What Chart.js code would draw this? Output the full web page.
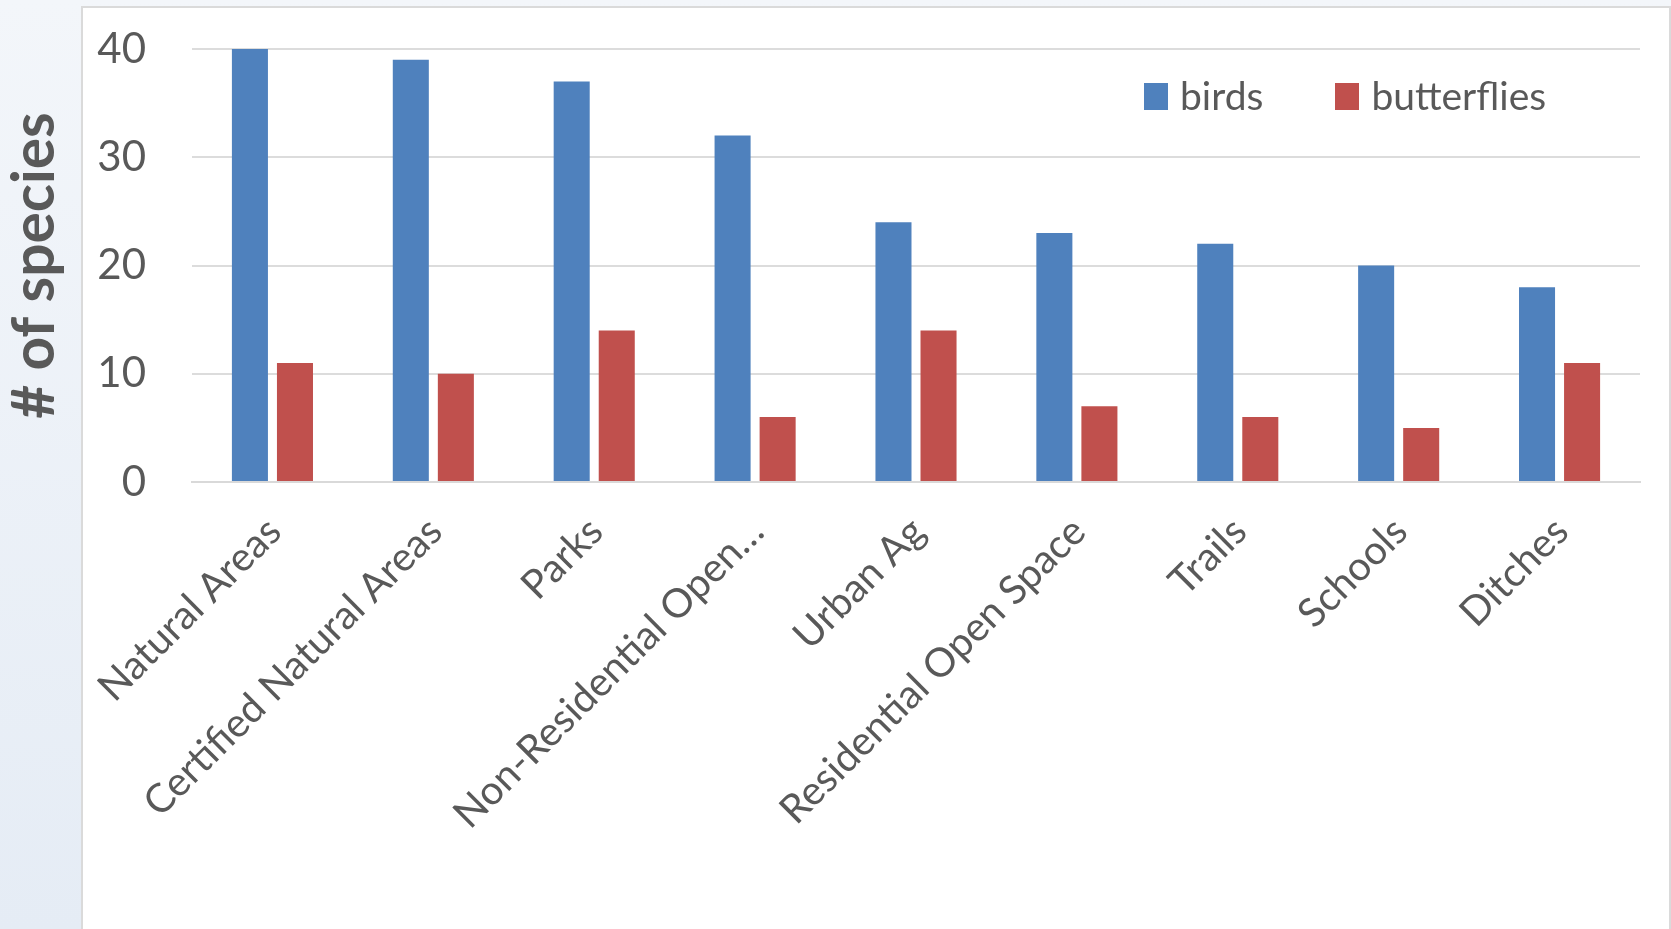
<!DOCTYPE html>
<html>
<head>
<meta charset="utf-8">
<script src="https://cdn.jsdelivr.net/npm/chart.js@4.4.0/dist/chart.umd.min.js"></script>
<style>
  html, body { margin: 0; padding: 0; width: 1671px; height: 929px; overflow: hidden; }
  body { position: relative; background: linear-gradient(to bottom, #f3f6fa 0%, #e5ecf5 100%); font-family: Lato, "Open Sans", sans-serif; }
  #panel { position: absolute; left: 81px; top: 6px; width: 1586px; height: 960px; background: #ffffff; border: 2px solid #dadada; }
  #wrap { position: absolute; left: 0; top: 0; width: 1671px; height: 929px; }
  #legend { position: absolute; left: 1144px; top: 72px; font-size: 39px; line-height: 1.2; color: #595959; white-space: nowrap; font-family: Lato, sans-serif; }
  #legend .item { display: inline; margin-right: 72px; }
  #legend .box { display: inline-block; width: 24px; height: 27px; vertical-align: baseline; margin-right: 12px; }
</style>
</head>
<body>
<div id="panel"></div>
<div id="wrap"><canvas id="c"></canvas></div>
<div id="legend"></div>
<script>
const categories = ["Natural Areas", "Certified Natural Areas", "Parks", "Non-Residential Open\u2026", "Urban Ag", "Residential Open Space", "Trails", "Schools", "Ditches"];
const birds = [40, 39, 37, 32, 24, 23, 22, 20, 18];
const butterflies = [11, 10, 14, 6, 14, 7, 6, 5, 11];
const yTicks = [0, 10, 20, 30, 40];
const seriesNames = ["birds", "butterflies"];
const axisTitle = "# of species";

const TEXT = "#595959";

const htmlLegend = {
  id: "htmlLegend",
  afterUpdate(chart) {
    const el = document.getElementById("legend");
    el.innerHTML = "";
    const items = chart.options.plugins.legend.labels.generateLabels(chart);
    items.forEach(it => {
      const item = document.createElement("span");
      item.className = "item";
      const box = document.createElement("span");
      box.className = "box";
      box.style.background = it.fillStyle;
      const txt = document.createElement("span");
      txt.textContent = it.text;
      item.appendChild(box);
      item.appendChild(txt);
      el.appendChild(item);
    });
  }
};

new Chart(document.getElementById("c"), {
  type: "bar",
  data: {
    labels: categories,
    datasets: [
      { label: seriesNames[0], data: birds, backgroundColor: "#4f81bd" },
      { label: seriesNames[1], data: butterflies, backgroundColor: "#c0504d" }
    ]
  },
  options: {
    responsive: true,
    maintainAspectRatio: false,
    animation: false,
    categoryPercentage: 0.56,
    barPercentage: 0.8,
    layout: { padding: { top: 49, right: 31, bottom: 0, left: 0 } },
    plugins: {
      legend: { display: false },
      tooltip: { enabled: false }
    },
    scales: {
      x: {
        grid: { display: false, drawTicks: false },
        border: { display: true, color: "#d9d9d9", width: 2 },
        ticks: {
          color: TEXT,
          font: { family: "Lato", size: 40 },
          minRotation: 45,
          maxRotation: 45,
          autoSkip: false,
          padding: 26,
          labelOffset: 2
        },
        afterFit(s) { s.height = 447; }
      },
      y: {
        min: 0,
        max: 40,
        afterBuildTicks(s) { s.ticks = yTicks.map(v => ({ value: v })); },
        grid: { color: "#dcdcdc", lineWidth: 2, drawTicks: true, tickLength: 43, tickColor: "rgba(0,0,0,0)" },
        border: { display: false },
        ticks: {
          color: TEXT,
          font: { family: "Lato", size: 42 },
          padding: 3
        },
        title: {
          display: true,
          text: axisTitle,
          color: TEXT,
          font: { family: "Lato", size: 58.5, weight: "bold" },
          padding: { top: 0, bottom: 0 }
        },
        afterFit(s) { s.width = 192; }
      }
    }
  },
  plugins: [htmlLegend]
});
</script>
</body>
</html>
